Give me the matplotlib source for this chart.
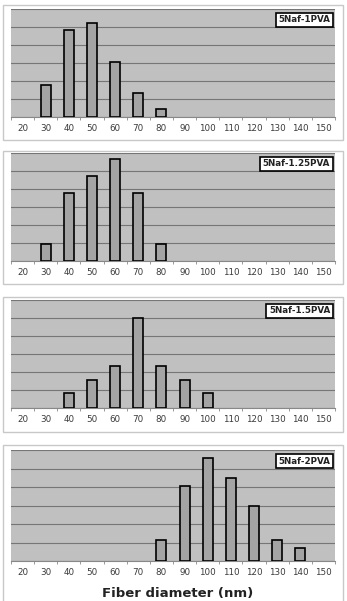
import numpy as np
import matplotlib.pyplot as plt
from matplotlib.patches import Rectangle

# fiber diameter bins (nm)
diam = [20, 30, 40, 50, 60, 70, 80, 90, 100, 110, 120, 130, 140, 150]

# relative frequencies (grid step = 5)
naf_1pva = [0, 8.9, 24.2, 26.2, 15.3, 6.7, 2.3, 0, 0, 0, 0, 0, 0, 0]
naf_125pva = [0, 4.6, 18.8, 23.6, 28.3, 18.8, 4.6, 0, 0, 0, 0, 0, 0, 0]
naf_15pva = [0, 0, 4.1, 7.9, 11.8, 25.1, 11.8, 7.9, 4.1, 0, 0, 0, 0, 0]
naf_2pva = [0, 0, 0, 0, 0, 0, 5.6, 20.3, 27.8, 22.3, 14.8, 5.6, 3.6, 0]

labels = ['5Naf-1PVA', '5Naf-1.25PVA', '5Naf-1.5PVA', '5Naf-2PVA']
series = [naf_1pva, naf_125pva, naf_15pva, naf_2pva]

W, H = 347, 601
fig = plt.figure(figsize=(W / 100, H / 100), dpi=100)

# (frame top, frame bottom, plot top, plot bottom) in pixels
panels = [(5, 140, 9, 117),
          (151, 284, 153, 261),
          (297, 432, 300, 408),
          (445, 605, 450, 561)]

x = np.arange(len(diam))
for (ft, fb, pt, pb), vals, lab in zip(panels, series, labels):
    fig.patches.append(Rectangle((3 / W, 1 - fb / H), 340 / W, (fb - ft) / H,
                                 transform=fig.transFigure, facecolor='white',
                                 edgecolor='#c8c8c8', lw=1.0, zorder=-5))
    ax = fig.add_axes([11 / W, 1 - pb / H, 324 / W, (pb - pt) / H])
    ax.set_facecolor('#c0c0c0')
    vals = np.array(vals)
    nz = vals > 0
    ax.bar(x[nz], vals[nz], width=0.43, color='#a4a4a4', edgecolor='black',
           lw=1.2, zorder=3)
    ax.set_xlim(-0.5, len(diam) - 0.5)
    ax.set_ylim(0, 30)
    ax.set_yticks(np.arange(0, 31, 5))
    ax.yaxis.grid(True, color='#767676', lw=0.8, zorder=1)
    ax.tick_params(axis='y', left=False, labelleft=False)
    ax.set_xticks(x)
    ax.set_xticklabels([str(d) for d in diam], fontsize=6.3, color='#3a3a3a')
    ax.tick_params(axis='x', length=0, pad=5)
    ax.set_xticks(np.arange(-0.5, len(diam)), minor=True)
    ax.tick_params(axis='x', which='minor', length=2.5, color='#888888')
    for s in ['top', 'right', 'left']:
        ax.spines[s].set_visible(False)
    ax.spines['bottom'].set_color('#888888')
    ax.spines['bottom'].set_linewidth(0.8)
    ax.text(0.985, 0.94, lab, transform=ax.transAxes, ha='right', va='top',
            fontsize=6.3, fontweight='bold', color='#222222', zorder=5,
            bbox=dict(boxstyle='square,pad=0.3', facecolor='white',
                      edgecolor='black', lw=1.2))

fig.text(178 / W, 1 - 594 / H, 'Fiber diameter (nm)', ha='center', va='center',
         fontsize=9.5, fontweight='bold', color='#222222')

plt.savefig('out.png', dpi=100)
